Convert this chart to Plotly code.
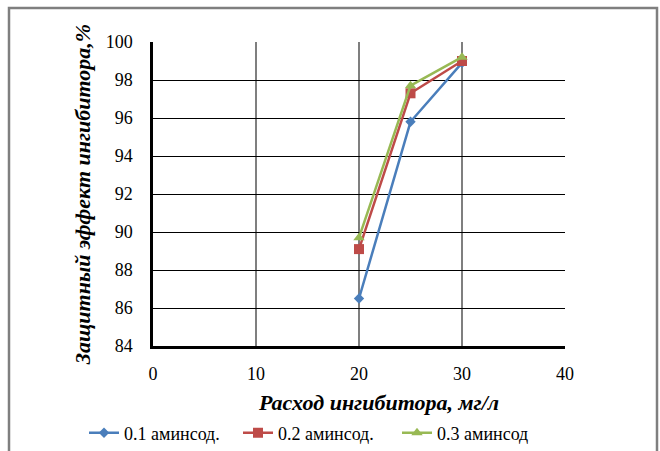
import plotly.graph_objects as go

x_vals = [20, 25, 30]
s1 = [86.5, 95.8, 98.9]
s2 = [89.1, 97.3, 99.0]
s3 = [89.7, 97.7, 99.2]
names = ["0.1 аминсод.", "0.2 аминсод.", "0.3 аминсод"]
colors = ["#4a7ebb", "#be4b48", "#98b954"]
symbols = ["diamond", "square", "triangle-up"]
sizes = [8, 10, 10]
legend_ids = ["legend", "legend2", "legend3"]
x_title = "Расход ингибитора, мг/л"
y_title = "Защитный эффект ингибитора,%"

fig = go.Figure()
for y, n, c, s, sz, lg in zip([s1, s2, s3], names, colors, symbols, sizes, legend_ids):
    fig.add_trace(go.Scatter(x=x_vals, y=y, name=n, mode="lines+markers",
                             line=dict(color=c, width=2.5),
                             marker=dict(symbol=s, size=sz, color=c), legend=lg))

W, H = 660, 451
L, R, T, B = 153, 95, 42, 105
pw, ph = W - L - R, H - T - B

def px(x):
    return (x - L) / pw

def py(y):
    return (H - B - y) / ph

font = "Liberation Serif"

def leg(xpix):
    return dict(orientation="h", x=px(xpix), xanchor="left", y=py(433), yanchor="middle",
                font=dict(size=18, family=font), bgcolor="rgba(0,0,0,0)")

fig.update_layout(
    width=W, height=H,
    margin=dict(l=L, r=R, t=T, b=B, autoexpand=False),
    paper_bgcolor="white", plot_bgcolor="white",
    font=dict(family=font, size=18, color="black"),
    showlegend=True,
    legend=leg(84), legend2=leg(238), legend3=leg(397),
    xaxis=dict(range=[0, 40], dtick=10, showgrid=True, gridcolor="#7f7f7f", gridwidth=1.5,
               showline=True, linecolor="black", linewidth=2.5, zeroline=False,
               ticks="", ticklen=0, automargin=False, ticklabelstandoff=10),
    yaxis=dict(range=[84, 100], dtick=2, showgrid=True, gridcolor="black", gridwidth=1.2,
               showline=True, linecolor="black", linewidth=2.5, zeroline=False,
               ticks="", ticklen=0, automargin=False, ticklabelstandoff=14,
               title=dict(text="<b><i>" + y_title + "</i></b>", font=dict(size=22, family=font), standoff=9)),
    annotations=[dict(text="<b><i>" + x_title + "</i></b>", xref="paper", yref="paper",
                      x=px(378), y=py(402), xanchor="center", yanchor="middle", showarrow=False,
                      font=dict(size=22, family=font))],
    shapes=[dict(type="rect", xref="paper", yref="paper",
                 x0=px(9), x1=px(657), y0=py(460), y1=py(8),
                 line=dict(color="#7f7f7f", width=2.5), fillcolor="rgba(0,0,0,0)", layer="below")],
)
fig.write_html("out.html")
